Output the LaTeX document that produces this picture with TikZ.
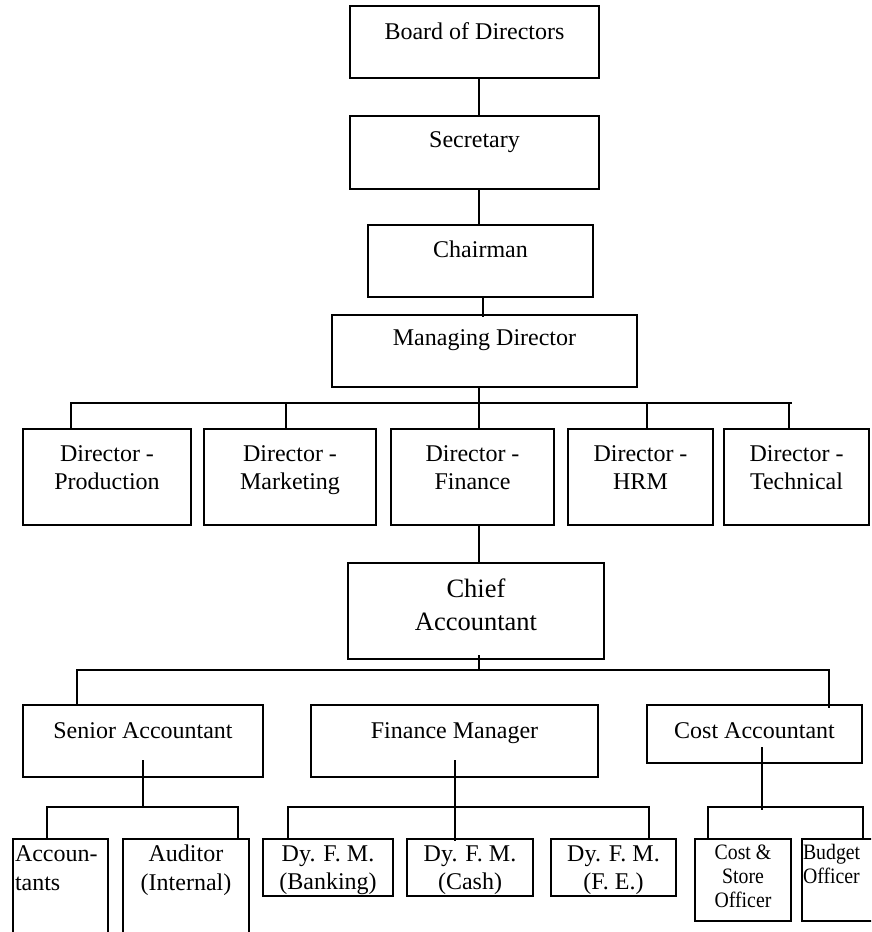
\documentclass[tikz,border=0pt]{standalone}
\usepackage{fontspec}
\setmainfont{Liberation Serif}
\newfontfamily\narrowfont[FakeStretch=0.9]{Liberation Serif}
\usetikzlibrary{positioning}
\tikzset{
    %Define style for boxes
    post/.style={
           rectangle,
           draw=black, line width=1.8pt,
           inner sep=0pt},
    %Define style for the texts in the boxes
    postname/.style={
           anchor=base,
           inner sep=0pt,
           align=center,
           font=\fontsize{24}{28}\selectfont},
    bigname/.style={postname, font=\fontsize{26.5}{33}\selectfont},
    smallname/.style={postname, font=\narrowfont\fontsize{22}{24}\selectfont},
    % Define line style
    link/.style={
           line width=1.8pt,
           line cap=rect}
}
\begin{document}
\begin{tikzpicture}[x=1pt,y=-1pt,link]
\useasboundingbox (0,0) rectangle (871,932);
\clip (0,0) rectangle (871,932);
\coordinate (spine) at (479,0);
% top of the chart
\node[post, minimum width=249, minimum height=72] (board) at (474.5,42) {};
\node[post, minimum width=249, minimum height=73] (sec) at (474.5,152.5) {};
\node[post, minimum width=225, minimum height=72] (chair) at (480.5,261) {};
\node[post, minimum width=305, minimum height=72] (md) at (484.5,351) {};
\node[postname] (board-n) at ([yshift=-34]board.north) {Board of Directors};
\node[postname] (sec-n) at ([yshift=-32]sec.north) {Secretary};
\node[postname] (chair-n) at ([yshift=-33]chair.north) {Chairman};
\node[postname] (md-n) at ([yshift=-31]md.north) {Managing Director};
% directors (base = last line)
\node[post, minimum width=168, minimum height=96] (prod) at (107,477) {};
\node[post, minimum width=172, minimum height=96] (mark) at (290,477) {};
\node[post, minimum width=163, minimum height=96] (fin) at (472.5,477) {};
\node[post, minimum width=145, minimum height=96] (hrm) at (640.5,477) {};
\node[post, minimum width=145, minimum height=96] (tech) at (796.5,477) {};
\node[postname] (prod-n) at ([yshift=-61]prod.north) {Director -\\Production};
\node[postname] (mark-n) at ([yshift=-61]mark.north) {Director -\\Marketing};
\node[postname] (fin-n) at ([yshift=-61]fin.north) {Director -\\Finance};
\node[postname] (hrm-n) at ([yshift=-61]hrm.north) {Director -\\HRM};
\node[postname] (tech-n) at ([yshift=-61]tech.north) {Director -\\Technical};
% accounts department
\node[post, minimum width=256, minimum height=96] (chief) at (476,611) {};
\node[bigname] (chief-n) at ([yshift=-68]chief.north) {Chief\\Accountant};
\node[post, minimum width=240, minimum height=72] (senior) at (143,741) {};
\node[post, minimum width=287, minimum height=72] (finmgr) at (454.5,741) {};
\node[post, minimum width=215, minimum height=58] (costacc) at (754.5,734) {};
\node[postname] (senior-n) at ([yshift=-34]senior.north) {Senior Accountant};
\node[postname] (finmgr-n) at ([yshift=-34]finmgr.north) {Finance Manager};
\node[postname] (costacc-n) at ([yshift=-34]costacc.north) {Cost Accountant};
% lowest level
\node[post, minimum width=95, minimum height=106] (accts) at (60.5,892) {};
\node[post, minimum width=126, minimum height=106] (auditor) at (186,892) {};
\node[post, minimum width=130, minimum height=57] (banking) at (328,867.5) {};
\node[post, minimum width=126, minimum height=57] (cash) at (470,867.5) {};
\node[post, minimum width=125, minimum height=57] (fe) at (613.5,867.5) {};
\node[post, minimum width=96, minimum height=82] (cso) at (743,880) {};
\node[post, minimum width=88, minimum height=82] (budget) at (846,880) {};
\node[postname, anchor=base west, align=left, font=\fontsize{24}{29}\selectfont] (accts-n) at ([xshift=2,yshift=-52]accts.north west) {Accoun-\\tants};
\node[postname, font=\fontsize{24}{29}\selectfont] (auditor-n) at ([yshift=-52]auditor.north) {Auditor\\(Internal)};
\node[postname] (banking-n) at ([yshift=-51]banking.north) {Dy. F. M.\\(Banking)};
\node[postname] (cash-n) at ([yshift=-51]cash.north) {Dy. F. M.\\(Cash)};
\node[postname] (fe-n) at ([yshift=-51]fe.north) {Dy. F. M.\\(F. E.)};
\node[smallname] (cso-n) at ([yshift=-69]cso.north) {Cost \&\\Store\\Officer};
\node[smallname, anchor=base west, align=left] (budget-n) at ([xshift=1,yshift=-45]budget.north west) {Budget\\Officer};
% connectors
\draw (board.south -| spine) -- (sec.north -| spine);
\draw (sec.south -| spine) -- (chair.north -| spine);
\draw ([xshift=2.5]chair.south) -- ++(0,18);
\foreach \n/\dx in {prod/-36, mark/-4, fin/6.5, hrm/6.5, tech/-7.5}
  \draw ([xshift=\dx]\n.north) -- ++(0,-25) coordinate (\n-up);
\draw (prod-up) -- ([xshift=2]tech-up);
\draw (md.south -| spine) -- (spine |- prod-up);
\draw (fin.south -| spine) -- (chief.north -| spine);
\draw ([xshift=-66]senior.north) -- ++(0,-34) coordinate (senior-up);
\draw ([xshift=74.5,yshift=-3]costacc.north) -- ++(0,-37) coordinate (costacc-up);
\draw (senior-up) -- (costacc-up);
\draw ([yshift=4]chief.south -| spine) -- (spine |- senior-up);
\foreach \n/\dx in {accts/-13.5, auditor/52, banking/-40, fe/35.5, cso/-35, budget/17}
  \draw ([xshift=\dx]\n.north) -- ++(0,-31) coordinate (\n-up);
\draw (accts-up) -- (auditor-up);
\draw (banking-up) -- (fe-up);
\draw (cso-up) -- (budget-up);
\draw ([yshift=17]senior.south) -- (senior.south |- accts-up);
\draw ([xshift=0.5,yshift=17]finmgr.south) -- ++(0,79);
\draw ([xshift=7.5,yshift=16]costacc.south) -- ++(0,61);
\end{tikzpicture}
\end{document}
